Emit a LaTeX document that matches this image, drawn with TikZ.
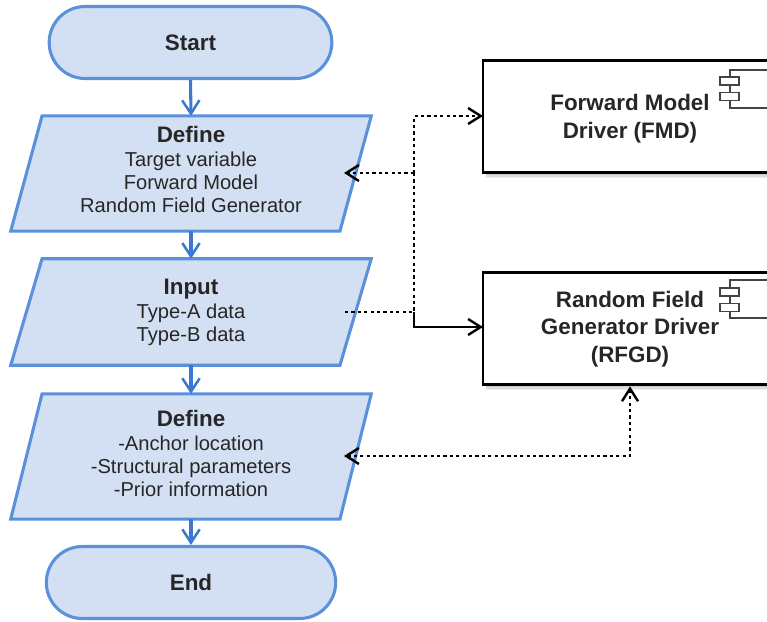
\documentclass[tikz,border=0pt]{standalone}
\usepackage{fontspec}
\setmainfont{Liberation Sans}
\usetikzlibrary{shapes.misc,arrows.meta}
\definecolor{flowfill}{HTML}{D3E0F3}
\definecolor{flowline}{HTML}{5B90DB}
\definecolor{flowarrow}{HTML}{3B78D2}
\definecolor{iconline}{HTML}{444444}
\tikzset{
  x=0.75pt,y=-0.75pt,
  base/.style={font=\fontsize{15.1pt}{17.25pt}\selectfont,align=center,text=black!85,inner sep=0pt},
  terminal/.style={base,rounded rectangle,draw=flowline,fill=flowfill,line width=2.3pt,minimum height=54pt},
  ioframe/.style={inner sep=0pt,minimum width=270pt},
  ioshape/.style={draw=flowline,fill=flowfill,line width=2.3pt,line join=miter},
  iotext/.style={base},
  driver/.style={base,font=\fontsize{15.1pt}{20.6pt}\selectfont,draw=black,fill=white,line width=2.2pt,minimum width=220.5pt,minimum height=84.5pt},
  drivertext/.style={base,font=\fontsize{15.1pt}{20.6pt}\selectfont},
  iconbody/.style={draw=iconline,fill=white,line width=1.2pt,inner sep=0pt,minimum width=30pt,minimum height=28.5pt},
  iconpin/.style={draw=iconline,fill=white,line width=1.2pt,inner sep=0pt,minimum width=14pt,minimum height=5.8pt},
  flow/.style={draw=flowarrow,line width=2.3pt,-{Straight Barb[length=10pt,width=13pt,line width=1.9pt]}},
  link/.style={draw=black,line width=1.9pt,dash pattern=on 2.4pt off 2.4pt},
  shadowbox/.style={fill=black,opacity=0.07,draw=none}
}
\newcommand{\hd}[1]{{\fontsize{16.8pt}{\baselineskip}\selectfont\bfseries #1}}
\newcommand{\ioshapeof}[1]{\draw[ioshape] ([xshift=23.5pt]#1.north west) -- (#1.north east) -- ([xshift=-23.5pt]#1.south east) -- (#1.south west) -- cycle;}
\begin{document}
\begin{tikzpicture}
\useasboundingbox (0,0) rectangle (767,621);
\clip (0,0) rectangle (767,621);
\fill[white] (0,0) rectangle (767,621);
% shadows under the driver boxes
\foreach \o in {2,3.5,5}{
  \path[shadowbox] (486,66+\o) rectangle (790,173+\o);
  \path[shadowbox] (486,278+\o) rectangle (790,385+\o);
}
\node[terminal,minimum width=212pt] (start) at (190.5,42.5) {\hd{Start}};
\node[ioframe,minimum height=86pt] (def1) at (191,173.5) {};
\node[ioframe,minimum height=79.5pt] (input) at (191,312) {};
\node[ioframe,minimum height=93.5pt] (def2) at (191,456.5) {};
\ioshapeof{def1}
\ioshapeof{input}
\ioshapeof{def2}
\node[iotext] (def1text) at (191,169.5) {\hd{Define}\\[0.8pt]Target variable\\Forward Model\\Random Field Generator};
\node[iotext] (inputtext) at (191,312.5) {\hd{Input}\\[1.2pt]Type-A data\\Type-B data};
\node[iotext] (def2text) at (191,453.5) {\hd{Define}\\[1.2pt]-Anchor location\\-Structural parameters\\-Prior information};
\node[terminal,minimum width=217pt] (end) at (191,582.5) {\hd{End}};
\node[driver] (fmd) at (630,116.5) {};
\node[driver] (rfgd) at (630,328.5) {};
\node[drivertext] (fmdtext) at (630,118.5) {\hd{Forward Model}\\\hd{Driver (FMD)}};
\node[drivertext] (rfgdtext) at (630,328.8) {\hd{Random Field}\\\hd{Generator Driver}\\\hd{(RFGD)}};
% component icons
\node[iconbody] (fmdbody) at (750,89) {};
\node[iconpin] (fmdpinA) at (729.5,81) {};
\node[iconpin] (fmdpinB) at (729.5,96.5) {};
\node[iconbody] (rfgdbody) at (750,299) {};
\node[iconpin] (rfgdpinA) at (729.5,292) {};
\node[iconpin] (rfgdpinB) at (729.5,307.5) {};
% flow
\draw[flow] (start.south) -- (def1.north);
\draw[flow] (def1.south) -- (input.north);
\draw[flow] (input.south) -- (def2.north);
\draw[flow] (def2.south) -- (end.north);
% links
\coordinate (defport) at (344,173);
\coordinate (junction) at (414,173);
\coordinate (inport) at (345,312);
\coordinate (injoin) at (414,312);
\coordinate (priorport) at (344,456);
\coordinate (fmdport) at (483,116);
\coordinate (rfgdport) at (483,327);
\tikzset{linktip/.tip={Straight Barb[length=9.5pt,width=12pt,line width=1.8pt]}}
\draw[link,-linktip] (junction) -- (defport);
\draw[link,-linktip] (junction) |- (fmdport);
\draw[link] (junction) -- (injoin);
\draw[link] (inport) -- (injoin);
\draw[draw=black,line width=1.9pt,-linktip] (injoin) |- (rfgdport);
\draw[link,linktip-linktip] (priorport) -| (rfgd.south);
\end{tikzpicture}
\end{document}
